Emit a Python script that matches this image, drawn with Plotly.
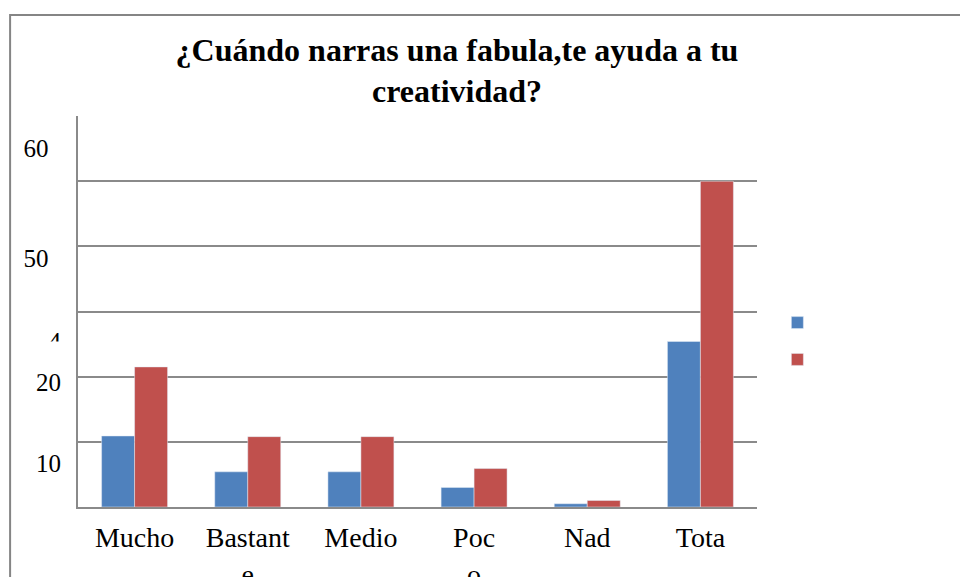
import plotly.graph_objects as go

# values
categories = ["Mucho", "Bastante", "Medio", "Poco", "Nada", "Total"]
tick_labels = ["Mucho", "Bastant<br>e", "Medio", "Poc<br>o", "Nad", "Tota"]
serie_azul = [10.9, 5.4, 5.4, 3.0, 0.5, 25.4]
serie_roja = [21.5, 10.8, 10.8, 5.9, 1.0, 50.0]

# the y labels in the source sit off the gridlines
y_label_vals = [55.0, 38.2, 25.5, 19.1, 6.7]
y_label_text = ["60\u2007", "50\u2007", "4", "20", "10"]

title = "¿Cuándo narras una fabula,te ayuda a tu<br>creatividad?"

SERIF = "Liberation Serif, Times New Roman, serif"

fig = go.Figure()
fig.add_trace(go.Bar(x=categories, y=serie_azul, name=" ", marker_color="#4F81BD"))
fig.add_trace(go.Bar(x=categories, y=serie_roja, name=" ", marker_color="#C0504D"))

# page body has an 8px margin, so the figure is 8px smaller than the window
fig.update_layout(
    width=960, height=569,
    margin=dict(l=70, r=211, t=108, b=70),
    paper_bgcolor="white", plot_bgcolor="white",
    barmode="group", bargap=0.417, bargroupgap=0,
    font=dict(family=SERIF, color="black"),
    title=dict(
        text="<b>" + title + "</b>",
        x=(457 - 8) / 960, xanchor="center", yref="container",
        y=1 - 52.5 / 569, yanchor="top",
        font=dict(family=SERIF, size=32, color="black"),
    ),
    xaxis=dict(
        tickmode="array", tickvals=categories, ticktext=tick_labels,
        tickfont=dict(size=28), showline=True, linecolor="#8a8a8a", linewidth=1.5,
        ticks="", showgrid=False, automargin=False, ticklabelstandoff=5,
    ),
    yaxis=dict(
        range=[0, 60.01], tickmode="array", tickvals=[0, 10, 20, 30, 40, 50, 60],
        showticklabels=False, showgrid=True,
        gridcolor="#8a8a8a", gridwidth=1.5, showline=True, linecolor="#8a8a8a",
        linewidth=1.5, zeroline=False, ticks="", automargin=False,
    ),
    yaxis2=dict(
        overlaying="y", side="left", range=[0, 60.01], tickmode="array",
        tickvals=y_label_vals, ticktext=y_label_text, showgrid=False,
        zeroline=False, showline=False, ticks="", tickfont=dict(size=25),
        ticklabelstandoff=16, automargin=False,
    ),
    legend=dict(
        x=1.03, xanchor="left", y=0.424, yanchor="middle",
        font=dict(size=26), itemwidth=30, tracegroupgap=0,
    ),
    showlegend=True,
)

# dummy trace so the label axis is drawn
fig.add_trace(go.Scatter(x=[categories[0]], y=[0], yaxis="y2", mode="markers",
                         marker=dict(opacity=0), showlegend=False, hoverinfo="skip"))

# outer frame of the chart object (runs off the right and bottom edges)
fig.add_shape(type="rect", xref="paper", yref="paper",
              x0=-0.1, x1=1.5, y0=-0.4, y1=1.258,
              line=dict(color="#858585", width=2), fillcolor="rgba(0,0,0,0)")

# the "4" label is half hidden in the source
fig.add_shape(type="rect", xref="paper", yref="paper",
              x0=-0.07, x1=-0.015, y0=0.37, y1=0.423, layer="above",
              line=dict(width=0), fillcolor="white")

fig.write_html("out.html")
